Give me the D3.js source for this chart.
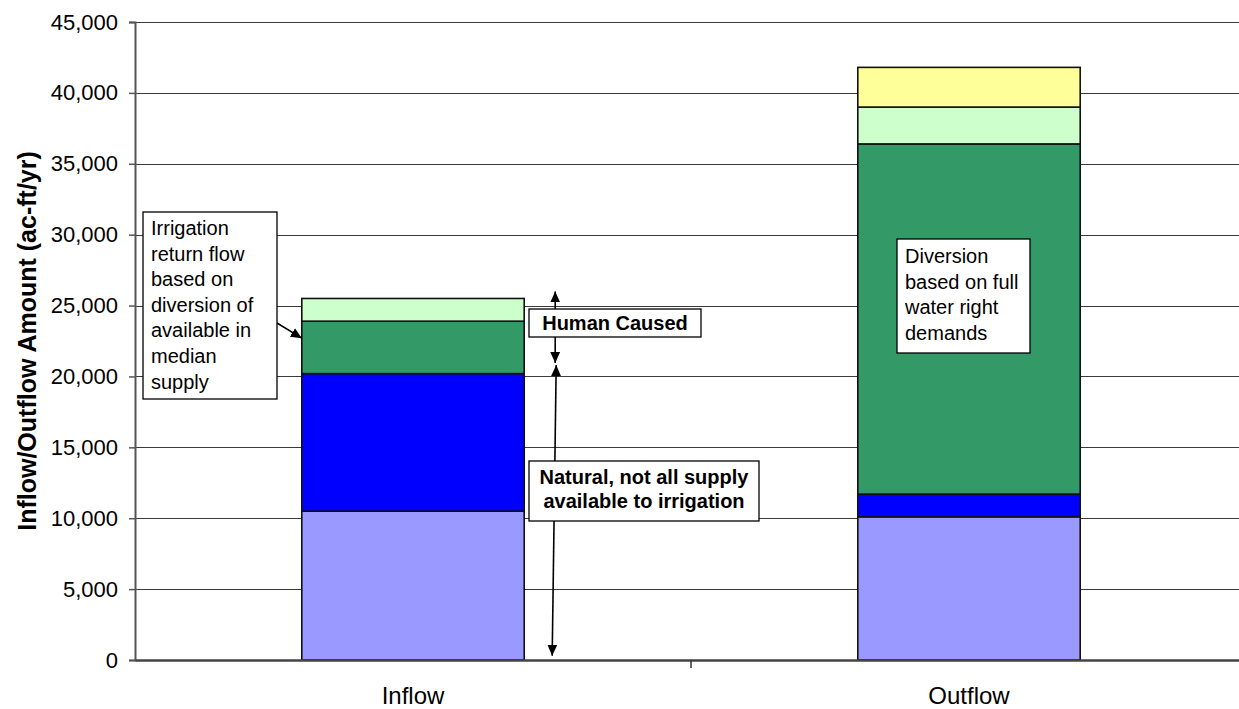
<!DOCTYPE html>
<html>
<head>
<meta charset="utf-8">
<script src="https://cdn.jsdelivr.net/npm/d3@7"></script>
<style>
  body { margin: 0; background: #fff; }
  svg text { font-family: Arial, "Liberation Sans", sans-serif; fill: #000; }
</style>
</head>
<body>
<svg width="1239" height="709"></svg>
<script>
// categories and stacked series (ac-ft/yr), bottom to top
var categories = ["Inflow", "Outflow"];
var seriesKeys = ["base", "natural", "diversion", "returnFlow", "other"];
var base = [10500, 10100];
var natural = [9700, 1600];
var diversion = [3700, 24700];
var returnFlow = [1600, 2600];
var other = [0, 2800];
var yTicks = [0, 5000, 10000, 15000, 20000, 25000, 30000, 35000, 40000, 45000];

var colors = ["#9999ff", "#0000ff", "#339966", "#ccffcc", "#ffff99"];

var table = categories.map(function(c, i) {
  return {cat: c, base: base[i], natural: natural[i], diversion: diversion[i],
          returnFlow: returnFlow[i], other: other[i]};
});

var svg = d3.select("svg");
// note: "top" is a reserved window property, so use plot* names
var plotLeft = 135, plotRight = 1247, plotTop = 22, plotBottom = 660;

var x = d3.scaleBand().domain(categories).range([plotLeft, plotRight]).paddingInner(0).paddingOuter(0);
var y = d3.scaleLinear().domain([0, 45000]).range([plotBottom, plotTop]);
var barW = x.bandwidth() * 0.4;

// gridlines
svg.append("g")
  .selectAll("line")
  .data(yTicks.slice(1))
  .enter()
  .append("line")
  .attr("x1", plotLeft).attr("x2", plotRight)
  .attr("y1", function(d) { return Math.round(y(d)) + 0.5; })
  .attr("y2", function(d) { return Math.round(y(d)) + 0.5; })
  .attr("stroke", "#3a3a3a")
  .attr("stroke-width", 1);

// bars
var stack = d3.stack().keys(seriesKeys)(table);
svg.append("g")
  .selectAll("g")
  .data(stack)
  .enter()
  .append("g")
  .attr("fill", function(d, i) { return colors[i]; })
  .selectAll("rect")
  .data(function(d) { return d.filter(function(p) { return p[1] > p[0]; }); })
  .enter()
  .append("rect")
  .attr("x", function(d) { return x(d.data.cat) + (x.bandwidth() - barW) / 2; })
  .attr("y", function(d) { return y(d[1]); })
  .attr("width", barW)
  .attr("height", function(d) { return y(d[0]) - y(d[1]); })
  .attr("stroke", "#111")
  .attr("stroke-width", 1.6);

// axes
var yAxis = svg.append("g")
  .attr("transform", "translate(" + plotLeft + ",0)")
  .call(d3.axisLeft(y).tickValues(yTicks).tickSize(6).tickPadding(11)
    .tickFormat(d3.format(",")));
yAxis.select(".domain").attr("stroke", "#555").attr("stroke-width", 2);
yAxis.selectAll(".tick line").attr("stroke", "#555").attr("stroke-width", 1.5);
yAxis.selectAll("text").attr("font-size", 22).attr("font-family", "Arial");

var xAxis = svg.append("g")
  .attr("transform", "translate(0," + plotBottom + ")")
  .call(d3.axisBottom(x).tickSize(0).tickPadding(27));
xAxis.select(".domain").attr("stroke", "#444").attr("stroke-width", 2.5);
xAxis.selectAll("text").attr("font-size", 24).attr("font-family", "Arial");
// divider tick between categories
xAxis.append("line")
  .attr("x1", x("Outflow")).attr("x2", x("Outflow"))
  .attr("y1", 0).attr("y2", 8)
  .attr("stroke", "#333").attr("stroke-width", 1.5);

svg.append("text")
  .attr("transform", "translate(27," + ((plotTop + plotBottom) / 2) + ") rotate(-90)")
  .attr("text-anchor", "middle")
  .attr("dy", "0.35em")
  .attr("font-size", 25)
  .attr("font-weight", "bold")
  .text("Inflow/Outflow Amount (ac-ft/yr)");

// arrow heads
svg.append("defs").append("marker")
  .attr("id", "head")
  .attr("viewBox", "0 -5 10 10")
  .attr("refX", 10).attr("refY", 0)
  .attr("markerWidth", 11).attr("markerHeight", 11)
  .attr("markerUnits", "userSpaceOnUse")
  .attr("orient", "auto-start-reverse")
  .append("path")
  .attr("d", "M0,-4.5L10,0L0,4.5Z")
  .attr("fill", "#000");

var inflowRight = x("Inflow") + (x.bandwidth() + barW) / 2;
var inflowLeft = x("Inflow") + (x.bandwidth() - barW) / 2;
var arrowX = inflowRight + 31;

// human caused arrow
svg.append("line")
  .attr("x1", arrowX).attr("y1", y(26000))
  .attr("x2", arrowX).attr("y2", y(20950))
  .attr("stroke", "#000").attr("stroke-width", 1.6)
  .attr("marker-start", "url(#head)")
  .attr("marker-end", "url(#head)");

// natural arrow
svg.append("line")
  .attr("x1", arrowX + 1).attr("y1", y(20800))
  .attr("x2", arrowX - 3).attr("y2", y(300))
  .attr("stroke", "#000").attr("stroke-width", 1.6)
  .attr("marker-start", "url(#head)")
  .attr("marker-end", "url(#head)");

// irrigation return flow pointer
svg.append("line")
  .attr("x1", 277).attr("y1", 323)
  .attr("x2", inflowLeft).attr("y2", y(22700))
  .attr("stroke", "#000").attr("stroke-width", 1.6)
  .attr("marker-end", "url(#head)");

// text boxes
function textBox(x0, y0, w, h, lines, opts) {
  var g = svg.append("g");
  g.append("rect")
    .attr("x", x0).attr("y", y0).attr("width", w).attr("height", h)
    .attr("fill", "#fff").attr("stroke", "#000").attr("stroke-width", 1.3);
  var t = g.append("text")
    .attr("font-size", opts.size)
    .attr("font-weight", opts.bold ? "bold" : "normal")
    .attr("text-anchor", opts.center ? "middle" : "start");
  lines.forEach(function(l, i) {
    t.append("tspan")
      .attr("x", opts.center ? x0 + w / 2 : x0 + opts.pad)
      .attr("y", y0 + opts.first + i * opts.lh)
      .text(l);
  });
}

textBox(143, 212, 134, 187,
  ["Irrigation", "return flow", "based on", "diversion of", "available in", "median", "supply"],
  {size: 20, pad: 8, first: 23, lh: 25.6});

textBox(529, 309, 172, 28, ["Human Caused"],
  {size: 20, bold: true, center: true, first: 21, lh: 0});

textBox(529, 461, 230, 60, ["Natural, not all supply", "available to irrigation"],
  {size: 20, bold: true, center: true, first: 23, lh: 24});

textBox(897, 239, 133, 114, ["Diversion", "based on full", "water right", "demands"],
  {size: 20, pad: 8, first: 24, lh: 25.6});
</script>
</body>
</html>
